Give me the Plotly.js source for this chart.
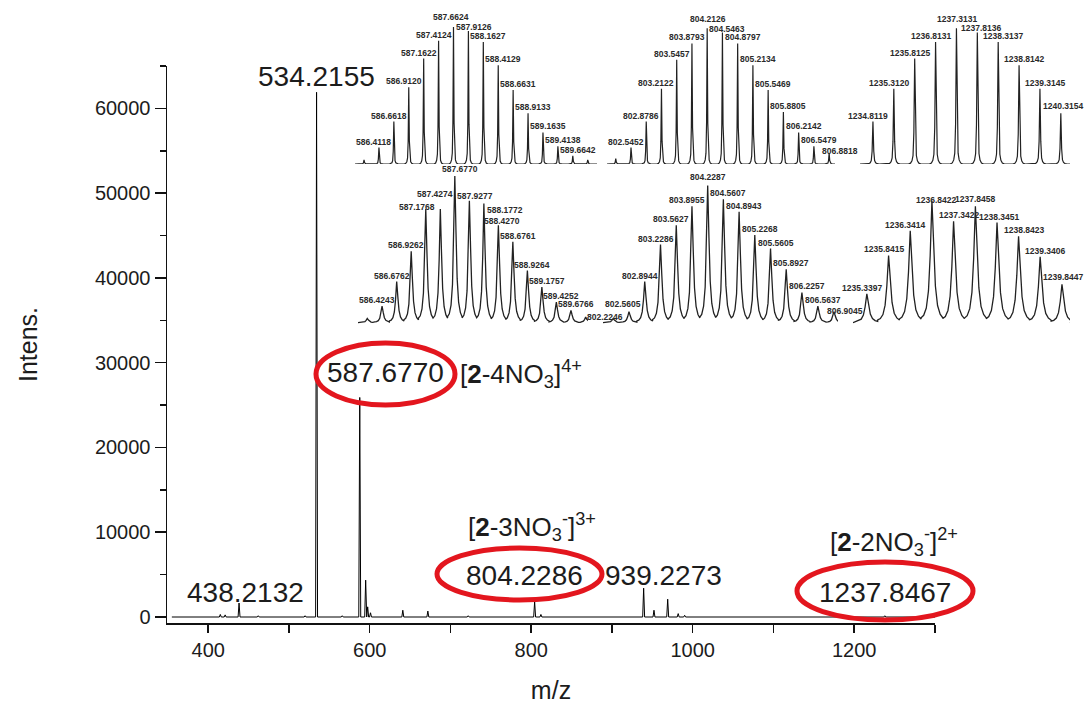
<!DOCTYPE html>
<html><head><meta charset="utf-8">
<script src="https://cdn.plot.ly/plotly-3.0.1.min.js"></script>
<style>html,body{margin:0;padding:0;background:#fff}#chart{width:1085px;height:715px}</style>
</head><body><div id="chart"></div>
<script>
// ---------- Main spectrum (m/z, intensity) ----------
const mainMz  = [415, 421, 438.2132, 462, 520, 534.2155, 566, 587.6770, 595, 597.5, 601, 641, 672, 722, 804.2286, 812, 939.2273, 952, 969, 982, 990, 1237.8467];
const mainInt = [300, 250, 1650, 150, 150, 61900, 150, 25900, 4350, 1200, 500, 800, 700, 150, 1800, 300, 3400, 800, 2100, 400, 200, 150];
const mainSpan = [355, 1300];

// ---------- Inset: simulated [2-4NO3]4+ ----------
const sim4Mz  = [586.1616, 586.4118, 586.6618, 586.9120, 587.1622, 587.4124, 587.6624, 587.9126, 588.1627, 588.4129, 588.6631, 588.9133, 589.1635, 589.4138, 589.6642, 589.9144];
const sim4Int = [3, 12, 31, 56, 77, 90, 100, 97, 89, 72, 54, 37, 23, 13, 6, 3];
const sim4Labels = [null, '586.4118','586.6618','586.9120','587.1622','587.4124','587.6624','587.9126','588.1627','588.4129','588.6631','588.9133','589.1635','589.4138','589.6642', null];
const sim4Span = [586.01, 590.07];

// ---------- Inset: simulated [2-3NO3]3+ ----------
const sim3Mz  = [802.2117, 802.5452, 802.8786, 803.2122, 803.5457, 803.8793, 804.2126, 804.5463, 804.8797, 805.2134, 805.5469, 805.8805, 806.2142, 806.5479, 806.8818];
const sim3Int = [4, 12, 31, 55, 76, 88, 99, 96, 88, 72, 54, 38, 23, 13, 8];
const sim3Labels = [null, '802.5452','802.8786','803.2122','803.5457','803.8793','804.2126','804.5463','804.8797','805.2134','805.5469','805.8805','806.2142','806.5479','806.8818'];
const sim3Span = [802.02, 807.01];

// ---------- Inset: simulated [2-2NO3]2+ ----------
const sim2Mz  = [1234.81, 1235.31, 1235.81, 1236.31, 1236.81, 1237.31, 1237.81, 1238.31, 1238.81, 1239.31];
const sim2Int = [31, 55, 77, 89, 99, 96, 89, 72, 55, 37];
const sim2Labels = ['1234.8119','1235.3120','1235.8125','1236.8131','1237.3131','1237.8136','1238.3137','1238.8142','1239.3145','1240.3154'];
const sim2Span = [1234.50, 1239.53];

// ---------- Inset: experimental [2-4NO3]4+ ----------
const exp4Mz  = [586.17, 586.4243, 586.6762, 586.9262, 587.1768, 587.4274, 587.6770, 587.9277, 588.1772, 588.4270, 588.6761, 588.9264, 589.1757, 589.4252, 589.6766, 589.93];
const exp4Int = [4, 13, 31, 53, 84, 84, 108, 90, 88, 72, 60, 39, 27, 16, 10, 5];
const exp4Labels = [null,'586.4243','586.6762','586.9262','587.1768','587.4274','587.6770','587.9277','588.1772','588.4270','588.6761','588.9264','589.1757','589.4252','589.6766', null];
const exp4Span = [586.01, 589.97];

// ---------- Inset: experimental [2-3NO3]3+ ----------
const exp3Mz  = [802.2246, 802.5605, 802.8944, 803.2286, 803.5627, 803.8955, 804.2287, 804.5607, 804.8943, 805.2268, 805.5605, 805.8927, 806.2257, 806.5637, 806.9045];
const exp3Int = [4, 9, 31, 58, 72, 86, 101, 91, 82, 65, 55, 40, 23, 13, 9];
const exp3Labels = ['802.2246','802.5605','802.8944','803.2286','803.5627','803.8955','804.2287','804.5607','804.8943','805.2268','805.5605','805.8927','806.2257','806.5637','806.9045'];
const exp3Span = [802.01, 806.99];

// ---------- Inset: experimental [2-2NO3]2+ ----------
const exp2Mz  = [1235.3397, 1235.8415, 1236.3414, 1236.8422, 1237.3422, 1237.8458, 1238.3451, 1238.8423, 1239.3406, 1239.8447];
const exp2Int = [22, 50, 68, 90, 75, 86, 74, 64, 49, 29];
const exp2Labels = ['1235.3397','1235.8415','1236.3414','1236.8422','1237.3422','1237.8458','1238.3451','1238.8423','1239.3406','1239.8447'];
const exp2Span = [1235.02, 1240.03];

// ---------- rendering helpers (peak shapes / label nudges = style) ----------
const W = 1085, H = 715;
const FONT = 'Liberation Sans, Arial, Helvetica, sans-serif';
const INK = '#1c1c1c';
const simProfile = [[-0.3,0],[-0.2,0.008],[-0.13,0.03],[-0.08,0.08],[-0.04,0.3],[0,1],[0.04,0.3],[0.08,0.08],[0.13,0.03],[0.2,0.008],[0.3,0]];
const expProfile = [[-0.5,0.04],[-0.38,0.06],[-0.26,0.12],[-0.16,0.26],[-0.08,0.55],[0,1],[0.08,0.62],[0.16,0.3],[0.26,0.14],[0.38,0.07],[0.5,0.04]];
const mainProfile = [[-1.2,0],[0,1],[1.2,0]];
// pixel nudges [dx, dy(up)] for crowded inset labels
const labelNudge = {
  '587.6624':[-2,3], '587.9126':[6,-3],
  '804.2126':[1,2], '804.5463':[5,-4], '806.8818':[11,-5],
  '1237.3131':[1,2], '1237.8136':[4,-3], '1240.3154':[2,0],
  '587.1768':[-9,-5], '587.4274':[-5,8], '587.6770':[5,0], '587.9277':[6,-2], '588.1772':[21,-14], '588.4270':[4,-3],
  '806.9045':[11,-6], '802.2246':[-8,-5], '802.5605':[-6,1],
  '1236.8422':[4,-6], '1237.8458':[0,0], '1238.3451':[2,-1], '1239.8447':[1,0]
};

function buildLine(mz, inten, span, prof, base, absolute) {
  const s = absolute ? 1 : (mz[mz.length-1]-mz[0])/(mz.length-1);
  const xs=[span[0]], ys=[base];
  mz.forEach((m,i)=>{ prof.forEach(([o,f])=>{ xs.push(m+o*s); ys.push(base + f*(inten[i]-base)); }); });
  xs.push(span[1]); ys.push(base);
  return {xs, ys};
}

const traces = [];
const mainLine = buildLine(mainMz, mainInt, mainSpan, mainProfile, 0, true);
traces.push({type:'scatter', mode:'lines', x:mainLine.xs, y:mainLine.ys, xaxis:'x', yaxis:'y',
  line:{color:'#000', width:1}, hoverinfo:'skip'});

const insets = [
  {mz:sim4Mz, it:sim4Int, lab:sim4Labels, span:sim4Span, prof:simProfile, base:0, ax:2, px:[355,597], row:'top'},
  {mz:sim3Mz, it:sim3Int, lab:sim3Labels, span:sim3Span, prof:simProfile, base:0, ax:3, px:[607,835], row:'top'},
  {mz:sim2Mz, it:sim2Int, lab:sim2Labels, span:sim2Span, prof:simProfile, base:0, ax:4, px:[860,1070], row:'top'},
  {mz:exp4Mz, it:exp4Int, lab:exp4Labels, span:exp4Span, prof:expProfile, base:1, ax:5, px:[358,588], row:'bot'},
  {mz:exp3Mz, it:exp3Int, lab:exp3Labels, span:exp3Span, prof:expProfile, base:1, ax:6, px:[603,838], row:'bot'},
  {mz:exp2Mz, it:exp2Int, lab:exp2Labels, span:exp2Span, prof:expProfile, base:1, ax:7, px:[853,1070], row:'bot'}
];
const rows = { top:{range:[0,105], dom:[(H-164)/H, (H-(164-105*1.37))/H]},
               bot:{range:[-2,110], dom:[(H-(324+2*1.37))/H, (H-(324-110*1.37))/H]} };

const layout = {
  width:W, height:H, margin:{l:0,r:0,t:0,b:0}, paper_bgcolor:'#fff', plot_bgcolor:'rgba(0,0,0,0)',
  showlegend:false, font:{family:FONT, color:INK},
  xaxis:{domain:[167/W, 935/W], range:[349,1300], showgrid:false, zeroline:false, showline:true,
    linecolor:'#111', linewidth:1.5, ticks:'outside', ticklen:8, tickwidth:1.5, tickcolor:'#111',
    tick0:0, dtick:200, tickfont:{size:20, family:FONT, color:INK}, anchor:'y',
    minor:{dtick:100, ticks:'outside', ticklen:8, tickwidth:1.5, tickcolor:'#111', showgrid:false},
    title:{text:'m/z', font:{size:25, family:FONT, color:INK}, standoff:22}},
  yaxis:{domain:[92/H, 649/H], range:[-707,65000], showgrid:false, zeroline:false, showline:true,
    linecolor:'#111', linewidth:1.5, ticks:'outside', ticklen:11, tickwidth:1.5, tickcolor:'#111',
    tick0:0, dtick:10000, tickfont:{size:20, family:FONT, color:INK}, anchor:'x', tickformat:'d',
    minor:{dtick:5000, ticks:'outside', ticklen:6, tickwidth:1.5, tickcolor:'#111', showgrid:false},
    title:{text:'Intens.', font:{size:25, family:FONT, color:INK}, standoff:50}},
  annotations:[], shapes:[]
};

insets.forEach(ins=>{
  const xa = 'xaxis'+ins.ax, ya='yaxis'+ins.ax;
  const r = rows[ins.row];
  layout[xa] = {domain:[ins.px[0]/W, ins.px[1]/W], range:ins.span, visible:false, anchor:'y'+ins.ax, fixedrange:true};
  layout[ya] = {domain:r.dom, range:r.range, visible:false, anchor:'x'+ins.ax, fixedrange:true};
  const L = buildLine(ins.mz, ins.it, ins.span, ins.prof, ins.base, false);
  traces.push({type:'scatter', mode:'lines', x:L.xs, y:L.ys, xaxis:'x'+ins.ax, yaxis:'y'+ins.ax,
    line:{color:'#222', width:ins.row==='top'?1.2:1.3}, hoverinfo:'skip'});
  let imax = 0; ins.it.forEach((v,i)=>{ if (v>ins.it[imax]) imax=i; });
  ins.mz.forEach((m,i)=>{
    const t = ins.lab[i];
    if (!t) return;
    let dx = i<imax?-5:(i>imax?5:0), dy = i===imax?2:-1;
    if (labelNudge[t]) { dx = labelNudge[t][0]; dy = labelNudge[t][1]; }
    layout.annotations.push({x:m, y:ins.it[i], xref:'x'+ins.ax, yref:'y'+ins.ax, text:'<b>'+t+'</b>',
      showarrow:false, xanchor:'center', yanchor:'bottom', xshift:dx, yshift:dy,
      font:{size:8.5, family:FONT, color:'#2a2a2a'}});
  });
});

// main-peak annotations
function pxA(text, px, py, size, xanchor) {
  layout.annotations.push({x:px/W, y:1-py/H, xref:'paper', yref:'paper', text:text, showarrow:false,
    xanchor:xanchor||'center', yanchor:'middle', font:{size:size, family:FONT, color:INK}});
}
layout.annotations.push({x:mainMz[5], y:mainInt[5], xref:'x', yref:'y', text:'534.2155', showarrow:false,
  xanchor:'center', yanchor:'bottom', yshift:-2, font:{size:28, family:FONT, color:INK}});
pxA('587.6770', 385, 372, 28);
pxA('[<b>2</b>-4NO<sub>3</sub>]<sup>4+</sup>', 458, 374, 26, 'left');
pxA('[<b>2</b>-3NO<sub>3</sub><sup>-</sup>]<sup>3+</sup>', 466, 527, 26, 'left');
pxA('804.2286', 524, 575, 28);
pxA('939.2273', 603, 575, 28, 'left');
pxA('[<b>2</b>-2NO<sub>3</sub><sup>-</sup>]<sup>2+</sup>', 828, 542, 26, 'left');
pxA('1237.8467', 885, 592, 28);
pxA('438.2132', 245, 592, 28);

// red ellipses
function ell(x0,x1,y0,y1){ layout.shapes.push({type:'circle', xref:'paper', yref:'paper',
  x0:x0/W, x1:x1/W, y0:1-y1/H, y1:1-y0/H, line:{color:'#e3161e', width:5}, fillcolor:'rgba(0,0,0,0)'}); }
ell(316,455,343,405);
ell(437,602,548,600);
ell(797,973,562,620);

Plotly.newPlot('chart', traces, layout, {staticPlot:true, displayModeBar:false});
</script></body></html>
